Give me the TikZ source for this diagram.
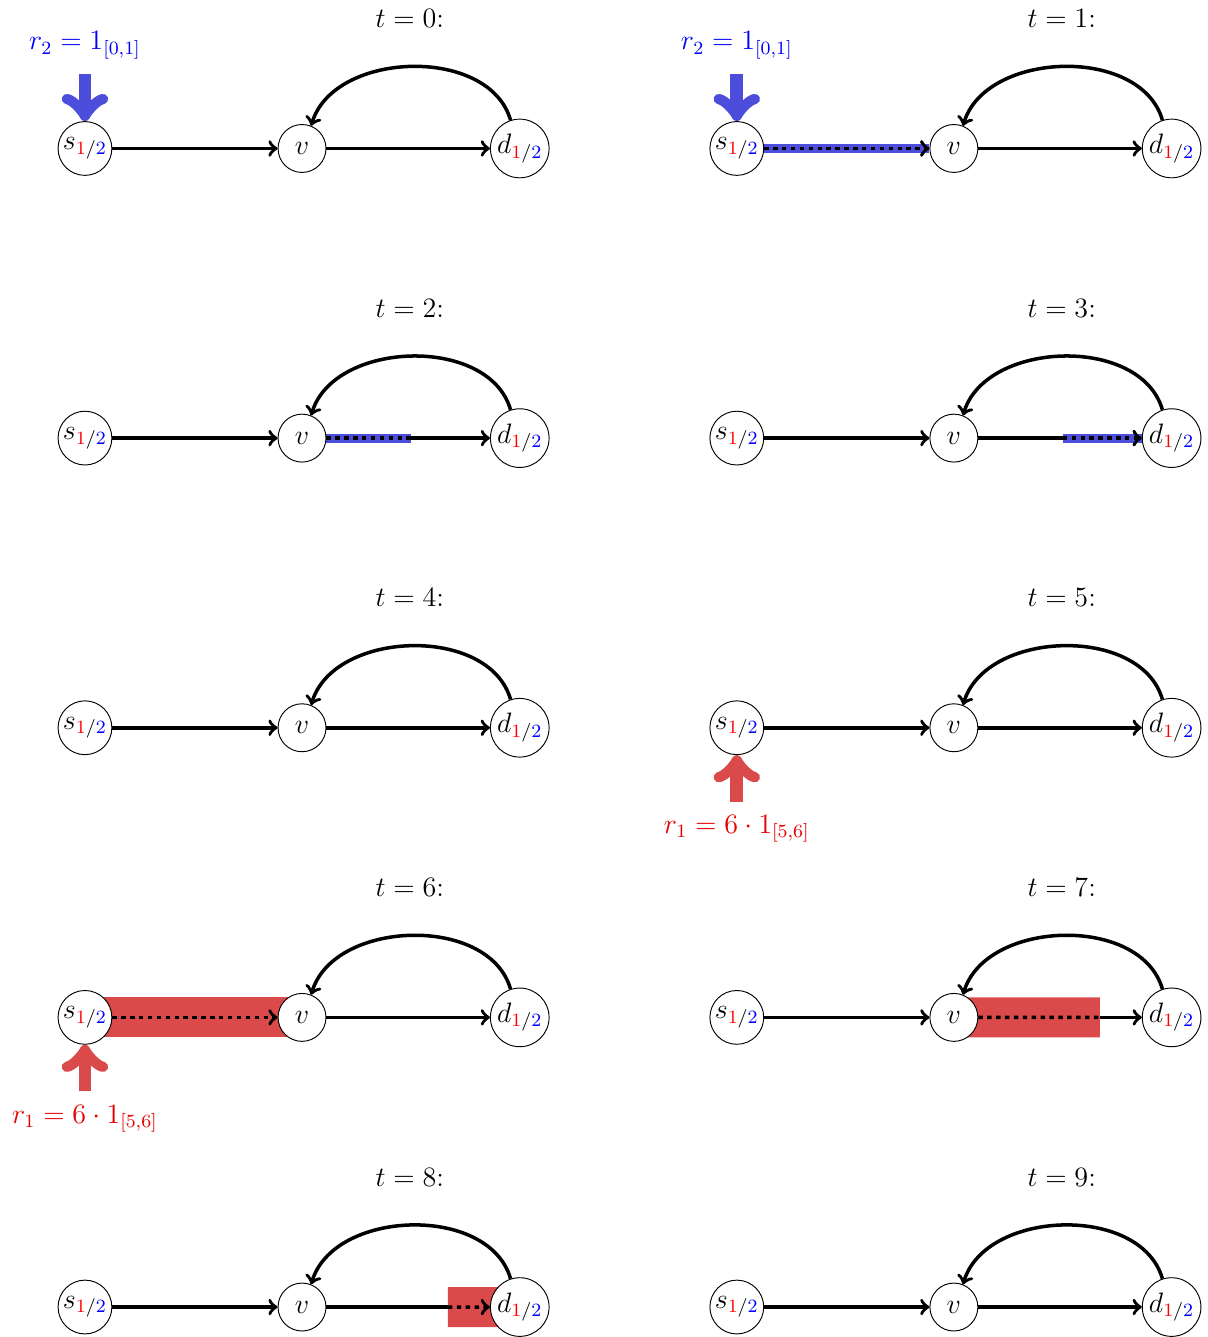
\documentclass[tikz,border=0pt,12pt]{standalone}
\usepackage{amsmath,amssymb}
\usepackage{xcolor}
\usepackage{tikz}
\usetikzlibrary{calc}

\definecolor{flowblue}{RGB}{77,77,220}
\definecolor{flowred}{RGB}{219,74,74}
\pgfdeclarelayer{front}
\pgfsetlayers{main,front}

\tikzset{
    vertex/.style={draw, circle, fill=white, inner sep=0.8pt, minimum size=0.72cm},
    edge/.style={->, line width=1.5pt},
    flowdots/.style={line width=1.5pt, dash pattern=on 1.9pt off 1.9pt},
    inflow/.style={->, line width=5.5pt},
}
\newcommand{\splitidx}{{\color{red}1}/{\color{blue}2}}

\begin{document}
\begin{tikzpicture}
    \useasboundingbox (0,0) rectangle (18.14,20.08);

    % Snapshots of the network for t = 0,...,9
    \foreach \k in {0,...,9} {
        \pgfmathsetmacro{\px}{1.276 + 9.79*mod(\k,2)}
        \pgfmathsetmacro{\py}{17.85 - 4.35*floor(\k/2)}
        \begin{pgfonlayer}{front}
            \node[vertex] (s\k) at (\px,\py) {$s_{\splitidx}$};
            \node[vertex] (v\k) at (\px+3.26,\py) {$v$};
            \node[vertex] (d\k) at (\px+6.53,\py) {$d_{\splitidx}$};
        \end{pgfonlayer}
        \node (t\k) at (\px+4.88,\py+1.95) {$t = \k$:};
        \draw[edge] (s\k) -- (v\k);
        \draw[edge] (v\k) -- (d\k);
        \draw[edge] (d\k.108) to[out=106, in=74, looseness=1] (v\k.68);
    }

    % Inflow of commodity 2
    \foreach \k in {0,1} {
        \draw[inflow, flowblue] ([yshift=0.7cm]s\k.north) -- (s\k.north);
        \node[blue] (r\k) at ([yshift=1.55cm]s\k.center) {$r_2 = 1_{[0,1]}$};
    }

    % Inflow of commodity 1
    \foreach \k in {5,6} {
        \draw[inflow, flowred] ([yshift=-0.7cm]s\k.south) -- (s\k.south);
        \node[red!90!black] (r\k) at ([yshift=-1.52cm]s\k.center) {$r_1 = 6\cdot 1_{[5,6]}$};
    }

    % Commodity 2 on its way
    \coordinate (m2) at ($(v2)!0.5!(d2)$);
    \coordinate (m3) at ($(v3)!0.5!(d3)$);
    \draw[flowblue, line width=3.8pt] (s1.east) -- (v1.west);
    \draw[flowdots, ->] (s1) -- (v1);
    \draw[flowblue, line width=3.8pt] (v2.east) -- (m2);
    \draw[flowdots] (v2) -- (m2);
    \draw[flowblue, line width=3.8pt] (m3) -- (d3.west);
    \draw[flowdots, ->] (m3) -- (d3);

    % Commodity 1 on its way
    \coordinate (m7) at ($(v7)!0.67!(d7)$);
    \coordinate (m8) at ($(v8)!0.67!(d8)$);
    \draw[flowred, line width=0.6cm] (s6.center) -- (v6.center);
    \draw[flowdots, ->] (s6) -- (v6);
    \draw[flowred, line width=0.6cm] (v7.center) -- (m7);
    \draw[flowdots] (v7) -- (m7);
    \draw[flowred, line width=0.6cm] (m8) -- (d8.center);
    \draw[flowdots, ->] (m8) -- (d8);
\end{tikzpicture}
\end{document}
